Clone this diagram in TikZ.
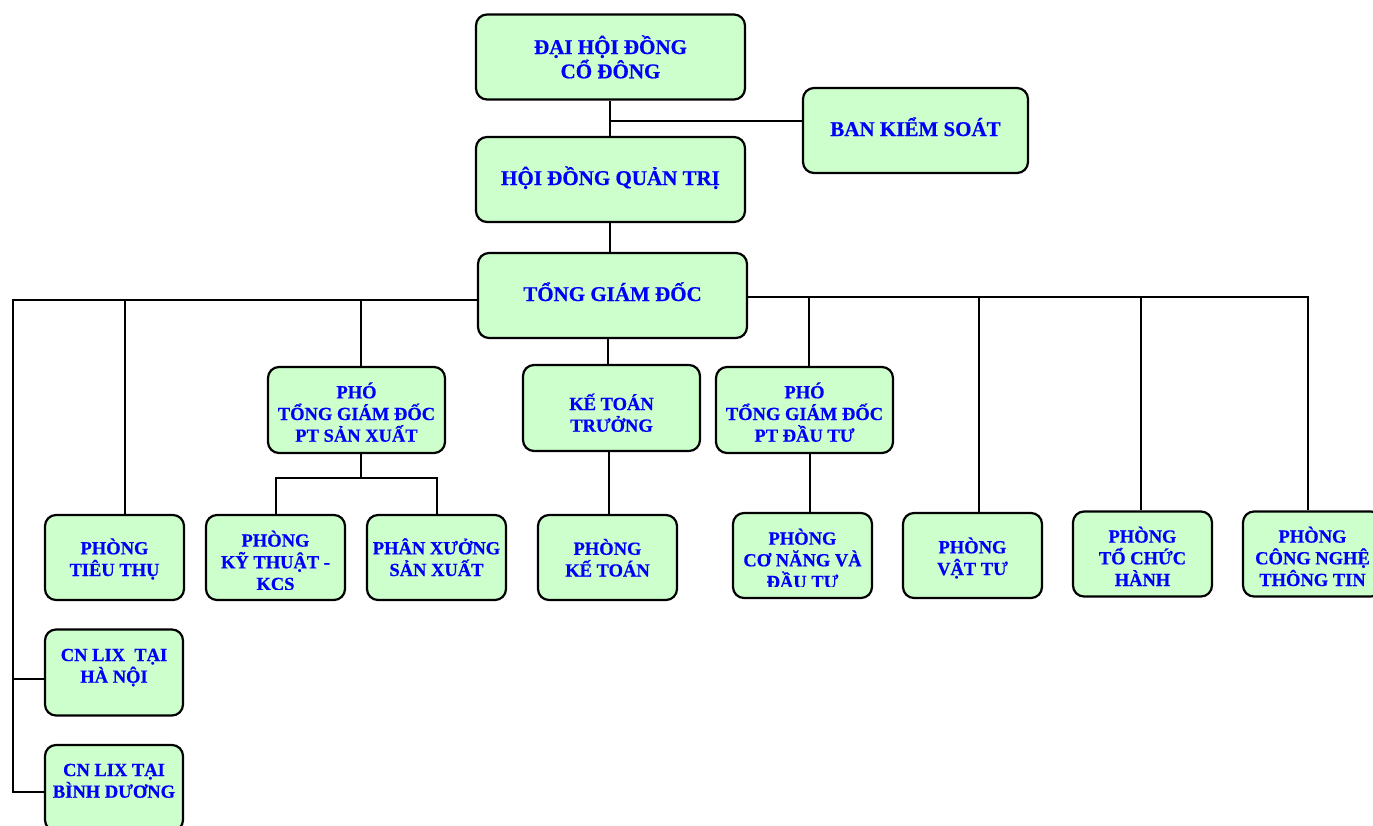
\documentclass[tikz,border=0pt]{standalone}
\usepackage{fontspec}
\setmainfont{Liberation Serif}[BoldFeatures={FakeBold=0.6}]
\definecolor{boxgreen}{RGB}{204,255,204}
\definecolor{txtblue}{RGB}{0,0,250}
\tikzset{
  box/.style={draw=black, line width=2.2pt, rounded corners=11pt, fill=boxgreen, inner sep=0pt},
  bigbox/.style={box, minimum width=269pt, minimum height=85pt},
  midbox/.style={box, minimum width=177pt, minimum height=86pt},
  smallbox/.style={box, minimum width=139pt, minimum height=85pt},
  lbl/.style={inner sep=0pt, align=center, text=txtblue,
    font=\bfseries\fontsize{18.5}{21.7}\selectfont},
  lblbig/.style={lbl, font=\bfseries\fontsize{21}{24.3}\selectfont},
  conn/.style={draw=black, line width=2pt},
}
% text of a box: [style]{box name}{drop of the last baseline below the box centre}{text}
\newcommand\boxtext[4][lbl]{\node[#1, anchor=base] (#2-t) at ([yshift=-#3pt]#2.center) {#4};}
\begin{document}
\begin{tikzpicture}[x=1pt,y=-1pt]
\clip (0,0) rectangle (1373,825);
\fill[white] (0,0) rectangle (1373,825);

% top
\node[bigbox] (dh) at (610.5,57) {};
\boxtext[lblbig]{dh}{21.3}{ĐẠI HỘI ĐỒNG\\CỔ ĐÔNG}
\node[bigbox, minimum width=225pt] (bks) at (915.5,130.5) {};
\boxtext[lblbig]{bks}{5.5}{BAN KIỂM SOÁT}
\node[bigbox] (hdqt) at (610.5,179.5) {};
\boxtext[lblbig]{hdqt}{5.5}{HỘI ĐỒNG QUẢN TRỊ}
\node[bigbox] (tgd) at (612.5,295.5) {};
\boxtext[lblbig]{tgd}{5.5}{TỔNG GIÁM ĐỐC}

% middle
\node[midbox] (ptsx) at (356.5,410) {};
\boxtext{ptsx}{31.7}{PHÓ\\TỔNG GIÁM ĐỐC\\PT SẢN XUẤT}
\node[midbox] (ktt) at (611.5,408) {};
\boxtext{ktt}{23.7}{KẾ TOÁN\\TRƯỞNG}
\node[midbox] (ptdt) at (804.5,410) {};
\boxtext{ptdt}{31.7}{PHÓ\\TỔNG GIÁM ĐỐC\\PT ĐẦU TƯ}

% bottom row
\node[smallbox] (tt) at (114.5,557.5) {};
\boxtext{tt}{18.5}{PHÒNG\\TIÊU THỤ}
\node[smallbox] (kth) at (275.5,557.5) {};
\begin{scope}
  \clip (kth.south west) ++(0,-12) rectangle (kth.north east);
  \boxtext{kth}{32.5}{PHÒNG\\KỸ THUẬT -\\KCS}
\end{scope}
\node[smallbox] (px) at (436.5,557.5) {};
\boxtext{px}{18.5}{PHÂN XƯỞNG\\SẢN XUẤT}
\node[smallbox] (pkt) at (607.5,557.5) {};
\boxtext{pkt}{19}{PHÒNG\\KẾ TOÁN}
\node[smallbox] (cn) at (802.5,555.5) {};
\begin{scope}
  \clip (cn.south west) ++(0,-13) rectangle (cn.north east);
  \boxtext{cn}{32.5}{PHÒNG\\CƠ NĂNG VÀ\\ĐẦU TƯ}
\end{scope}
\node[smallbox] (vt) at (972.5,555.5) {};
\boxtext{vt}{19.5}{PHÒNG\\VẬT TƯ}
\node[smallbox] (tc) at (1142.5,554) {};
\boxtext{tc}{32}{PHÒNG\\TỔ CHỨC\\HÀNH}
\node[smallbox] (cntt) at (1312.5,554) {};
\boxtext{cntt}{32}{PHÒNG\\CÔNG NGHỆ\\THÔNG TIN}

% branches
\node[smallbox, minimum width=138pt, minimum height=86pt] (hn) at (114,672.5) {};
\boxtext{hn}{10.2}{CN LIX\ \ TẠI\\HÀ NỘI}
\node[smallbox, minimum width=138pt, minimum height=86pt] (bd) at (114,788) {};
\boxtext{bd}{9.7}{CN LIX TẠI\\BÌNH DƯƠNG}

% connectors
\coordinate (j1) at (610,121);
\draw[conn] (dh.south -| 610,0) -- (hdqt.north -| 610,0);
\draw[conn] (j1) -- (j1 -| bks.west);
\draw[conn] (hdqt.south -| 610,0) -- (tgd.north -| 610,0);

% left bus
\draw[conn] (tgd.west |- 0,300) -- (13,300) -- (13,792) -- (bd.west |- 0,792);
\draw[conn] (13,679) -- (hn.west |- 0,679);
\draw[conn] (125,300) -- (tt.north -| 125,0);
\draw[conn] (361,300) -- (ptsx.north -| 361,0);
\draw[conn] (ptsx.south -| 361,0) -- (361,478);
\draw[conn] (kth.north) |- (361,478) -| (px.north);

% right bus
\draw[conn] (tgd.east |- 0,297) -- (1308,297) -- (cntt.north -| 1308,0);
\draw[conn] (809,297) -- (ptdt.north -| 809,0);
\draw[conn] (979,297) -- (vt.north -| 979,0);
\draw[conn] (1141,297) -- (tc.north -| 1141,0);

\draw[conn] (tgd.south -| 608,0) -- (ktt.north -| 608,0);
\draw[conn] (ktt.south -| 609,0) -- (pkt.north -| 609,0);
\draw[conn] (ptdt.south -| 810,0) -- (cn.north -| 810,0);
\end{tikzpicture}
\end{document}
